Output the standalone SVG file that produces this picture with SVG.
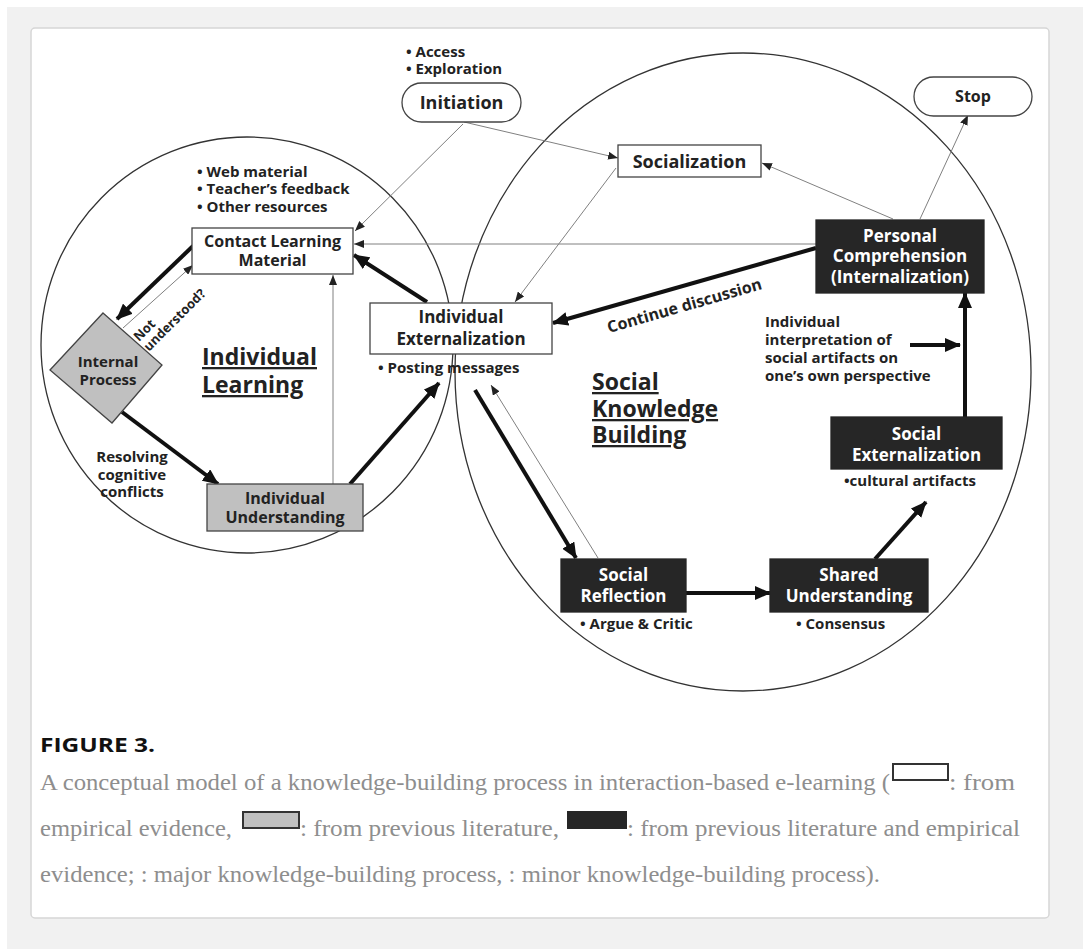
<svg xmlns="http://www.w3.org/2000/svg" width="1083" height="949" viewBox="0 0 1083 949">
<style>
.t{font-family:"Open Sans","Noto Sans","Liberation Sans",sans-serif;font-weight:bold;fill:#222}
.w{fill:#fff}
.c{text-anchor:middle}
.box{fill:#fff;stroke:#444;stroke-width:1.3}
.gray{fill:#c0c0c0;stroke:#444;stroke-width:1.3}
.blk{fill:#262626;stroke:#262626;stroke-width:1.3}
.thick{stroke:#111;stroke-width:4;fill:none;marker-end:url(#ah)}
.thin{stroke:#808080;stroke-width:1;fill:none;marker-end:url(#at)}
.cap{font-family:"Liberation Serif","Times New Roman",serif;font-size:24px;fill:#8e8e8e}
</style>
<defs>
<marker id="ah" markerUnits="userSpaceOnUse" markerWidth="16" markerHeight="14" viewBox="0 0 16 14" refX="15" refY="7" orient="auto"><path d="M0,0 L16,7 L0,14 z" fill="#111"/></marker>
<marker id="at" markerUnits="userSpaceOnUse" markerWidth="10" markerHeight="8" viewBox="0 0 10 8" refX="10" refY="4" orient="auto"><path d="M0,0 L10,4 L0,8 z" fill="#222"/></marker>
</defs>
<rect x="0" y="0" width="1083" height="949" fill="#fff"/>
<rect x="7" y="7" width="1076" height="942" fill="#f1f1f1"/>
<rect x="31" y="28" width="1018" height="890" rx="4" fill="#fff" stroke="#d6d6d6" stroke-width="1.5"/>

<g id="regions" fill="none" stroke="#333" stroke-width="1.3">
<ellipse cx="247" cy="345" rx="206" ry="208"/>
<ellipse cx="743" cy="372" rx="288" ry="319"/>
</g>

<g id="connectors">
<path class="thick" d="M193,246 L117,319"/>
<path class="thick" d="M122,412 L218,484"/>
<path class="thick" d="M350,484 L439,383"/>
<path class="thick" d="M427,302 L354,255"/>
<path class="thick" d="M816,248 L553,323"/>
<path class="thick" d="M475,390 L576,558"/>
<path class="thick" d="M686,593 L770,593"/>
<path class="thick" d="M875,559 L926,502"/>
<path class="thick" d="M965,417 L965,293"/>
<path class="thick" d="M910,345 L960,345"/>
<path class="thin" d="M464,122 L618,158"/>
<path class="thin" d="M463,124 L355,231"/>
<path class="thin" d="M616,168 L515,302"/>
<path class="thin" d="M893,219 L762,163"/>
<path class="thin" d="M920,219 L968,115"/>
<path class="thin" d="M816,244 L354,244"/>
<path class="thin" d="M123,328 L193,265"/>
<path class="thin" d="M333,484 L333,275"/>
<path class="thin" d="M598,558 L491,385"/>
<text class="t c" font-size="16" transform="translate(686,311) rotate(-16)">Continue discussion</text>
<g transform="translate(139,342) rotate(-45)"><text class="t" font-size="13" x="0" y="0">Not</text><text class="t" font-size="13" x="0" y="14">understood?</text></g>
</g>

<g id="initiation">
<text class="t" font-size="15" x="406" y="57">• Access</text>
<text class="t" font-size="15" x="406" y="74">• Exploration</text>
<rect class="box" x="402" y="83" width="119" height="39" rx="19.5"/>
<text class="t c" font-size="18" x="461.5" y="109">Initiation</text>
</g>

<g id="stop">
<rect class="box" x="914" y="77" width="118" height="39" rx="19.5"/>
<text class="t c" font-size="16" x="973" y="102">Stop</text>
</g>

<g id="socialization">
<rect class="box" x="618" y="145" width="143" height="32"/>
<text class="t c" font-size="18" x="689.5" y="168">Socialization</text>
</g>

<g id="contact-learning">
<text class="t" font-size="15" x="197" y="177">• Web material</text>
<text class="t" font-size="15" x="197" y="194">• Teacher’s feedback</text>
<text class="t" font-size="15" x="197" y="212">• Other resources</text>
<rect class="box" x="192" y="228" width="161" height="46"/>
<text class="t c" font-size="16" x="272.5" y="247">Contact Learning</text>
<text class="t c" font-size="16" x="272.5" y="266">Material</text>
</g>

<g id="internal-process">
<polygon class="gray" points="103,313 162,365 112,423 50,370"/>
<text class="t c" font-size="15" x="108" y="367">Internal</text>
<text class="t c" font-size="15" x="108" y="385">Process</text>
</g>

<g id="individual-learning-label">
<text class="t" font-size="23" x="202" y="365" text-decoration="underline">Individual</text>
<text class="t" font-size="23" x="202" y="393" text-decoration="underline">Learning</text>
</g>

<g id="resolving">
<text class="t c" font-size="15" x="132" y="462">Resolving</text>
<text class="t c" font-size="15" x="132" y="480">cognitive</text>
<text class="t c" font-size="15" x="132" y="497">conflicts</text>
</g>

<g id="individual-understanding">
<rect class="gray" x="207" y="484" width="156" height="47"/>
<text class="t c" font-size="16" x="285" y="504">Individual</text>
<text class="t c" font-size="16" x="285" y="523">Understanding</text>
</g>

<g id="individual-externalization">
<rect class="box" x="370" y="303" width="182" height="51"/>
<text class="t c" font-size="17" x="461" y="323">Individual</text>
<text class="t c" font-size="17" x="461" y="345">Externalization</text>
<text class="t" font-size="15" x="378" y="373">• Posting messages</text>
</g>

<g id="social-knowledge-building-label">
<text class="t" font-size="23" x="592" y="390" text-decoration="underline">Social</text>
<text class="t" font-size="23" x="592" y="417" text-decoration="underline">Knowledge</text>
<text class="t" font-size="23" x="592" y="443" text-decoration="underline">Building</text>
</g>

<g id="personal-comprehension">
<rect class="blk" x="816" y="220" width="168" height="73"/>
<text class="t w c" font-size="17" x="900" y="242">Personal</text>
<text class="t w c" font-size="17" x="900" y="262">Comprehension</text>
<text class="t w c" font-size="17" x="900" y="283">(Internalization)</text>
</g>

<g id="interpretation">
<text class="t" font-size="15" x="765" y="327">Individual</text>
<text class="t" font-size="15" x="765" y="345">interpretation of</text>
<text class="t" font-size="15" x="765" y="363">social artifacts on</text>
<text class="t" font-size="15" x="765" y="381">one’s own perspective</text>
</g>

<g id="social-externalization">
<rect class="blk" x="831" y="417" width="171" height="52"/>
<text class="t w c" font-size="17" x="916.5" y="440">Social</text>
<text class="t w c" font-size="17" x="916.5" y="461">Externalization</text>
<text class="t c" font-size="15" x="910" y="486">•cultural artifacts</text>
</g>

<g id="social-reflection">
<rect class="blk" x="561" y="559" width="125" height="53"/>
<text class="t w c" font-size="17" x="623.5" y="581">Social</text>
<text class="t w c" font-size="17" x="623.5" y="602">Reflection</text>
<text class="t" font-size="15" x="580" y="629">• Argue &amp; Critic</text>
</g>

<g id="shared-understanding">
<rect class="blk" x="770" y="559" width="158" height="53"/>
<text class="t w c" font-size="17" x="849" y="581">Shared</text>
<text class="t w c" font-size="17" x="849" y="602">Understanding</text>
<text class="t" font-size="15" x="796" y="629">• Consensus</text>
</g>

<g id="caption">
<text x="40" y="752" font-family="'Open Sans','Liberation Sans',sans-serif" font-weight="bold" font-size="20" fill="#111" textLength="115" lengthAdjust="spacingAndGlyphs">FIGURE 3.</text>
<text class="cap" x="40" y="790" textLength="850" lengthAdjust="spacingAndGlyphs">A conceptual model of a knowledge-building process in interaction-based e-learning (</text>
<rect x="893" y="764" width="55" height="16" fill="#fff" stroke="#333" stroke-width="2"/>
<text class="cap" x="949" y="790" textLength="66" lengthAdjust="spacingAndGlyphs">: from</text>
<text class="cap" x="40" y="836" textLength="192" lengthAdjust="spacingAndGlyphs">empirical evidence,</text>
<rect x="243" y="812" width="56" height="16" fill="#c0c0c0" stroke="#333" stroke-width="2"/>
<text class="cap" x="300" y="836" textLength="259" lengthAdjust="spacingAndGlyphs">: from previous literature,</text>
<rect x="568" y="812" width="58" height="16" fill="#262626" stroke="#262626" stroke-width="2"/>
<text class="cap" x="627" y="836" textLength="393" lengthAdjust="spacingAndGlyphs">: from previous literature and empirical</text>
<text class="cap" x="40" y="882" textLength="840" lengthAdjust="spacingAndGlyphs">evidence; : major knowledge-building process, : minor knowledge-building process).</text>
</g>
</svg>
